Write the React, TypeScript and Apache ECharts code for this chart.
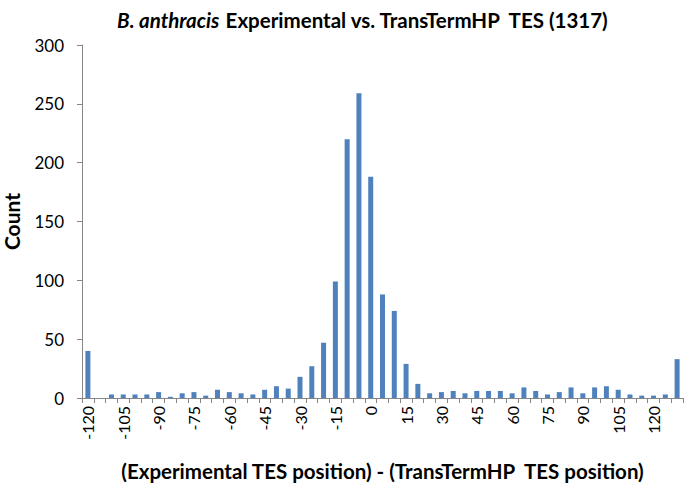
import React, { useEffect, useRef } from "react";
import * as echarts from "echarts";

const categories: string[] = [
  "-120", "-115", "-110", "-105", "-100", "-95", "-90", "-85", "-80", "-75",
  "-70", "-65", "-60", "-55", "-50", "-45", "-40", "-35", "-30", "-25",
  "-20", "-15", "-10", "-5", "0", "5", "10", "15", "20", "25",
  "30", "35", "40", "45", "50", "55", "60", "65", "70", "75",
  "80", "85", "90", "95", "100", "105", "110", "115", "120", "125", "130",
];

const counts: number[] = [
  40, 0, 3, 3, 3, 3, 5, 1, 4, 5,
  2, 7, 5, 4, 3, 7, 10, 8, 18, 27,
  47, 99, 220, 259, 188, 88, 74, 29, 12, 4,
  5, 6, 4, 6, 6, 6, 4, 9, 6, 3,
  5, 9, 4, 9, 10, 7, 3, 2, 2, 3, 33,
];

const yTicks = { min: 0, max: 300, interval: 50 };

const FONT = "Lato";

export default function App() {
  const ref = useRef<HTMLDivElement>(null);
  useEffect(() => {
    if (!ref.current) return;
    const chart = echarts.init(ref.current, null, { renderer: "svg" });
    chart.setOption({
      animation: false,
      backgroundColor: "#ffffff",
      title: {
        text: "{i|B. anthracis} {b|Experimental vs. TransTermHP  TES (1317)}",
        left: 358,
        top: 4,
        textAlign: "center",
        textStyle: {
          rich: {
            i: { fontFamily: FONT, fontSize: 20.5, fontWeight: "bold", fontStyle: "italic", color: "#000" },
            b: { fontFamily: FONT, fontSize: 20.5, fontWeight: "bold", color: "#000" },
          },
        },
      },
      grid: { left: 82, right: 2, top: 45, bottom: 92, containLabel: false, outerBoundsMode: "none" },
      xAxis: {
        type: "category",
        data: categories,
        boundaryGap: true,
        name: "(Experimental TES position) - (TransTermHP  TES position)",
        nameLocation: "middle",
        nameGap: 62,
        nameTextStyle: { fontFamily: FONT, fontSize: 20.5, fontWeight: "bold", color: "#000" },
        axisLine: { lineStyle: { color: "#868686", width: 1 } },
        axisTick: { show: true, interval: 0, length: 5, lineStyle: { color: "#868686" } },
        axisLabel: {
          interval: 2,
          rotate: 90,
          fontFamily: FONT,
          fontSize: 16,
          color: "#000",
          margin: 8,
        },
        splitLine: { show: false },
      },
      yAxis: {
        type: "value",
        min: yTicks.min,
        max: yTicks.max,
        interval: yTicks.interval,
        name: "Count",
        nameLocation: "middle",
        nameGap: 60,
        nameTextStyle: { fontFamily: FONT, fontSize: 21, fontWeight: "bold", color: "#000" },
        axisLine: { show: true, lineStyle: { color: "#868686", width: 1 } },
        axisTick: { show: true, length: 5, lineStyle: { color: "#868686" } },
        axisLabel: { fontFamily: FONT, fontSize: 17, color: "#000", margin: 18 },
        splitLine: { show: false },
      },
      series: [
        {
          type: "bar",
          data: counts,
          barWidth: 5,
          itemStyle: { color: "#4F81BD" },
        },
      ],
    });
    return () => chart.dispose();
  }, []);
  return <div ref={ref} style={{ width: 685, height: 490, position: "absolute", left: 0, top: 0 }} />;
}
